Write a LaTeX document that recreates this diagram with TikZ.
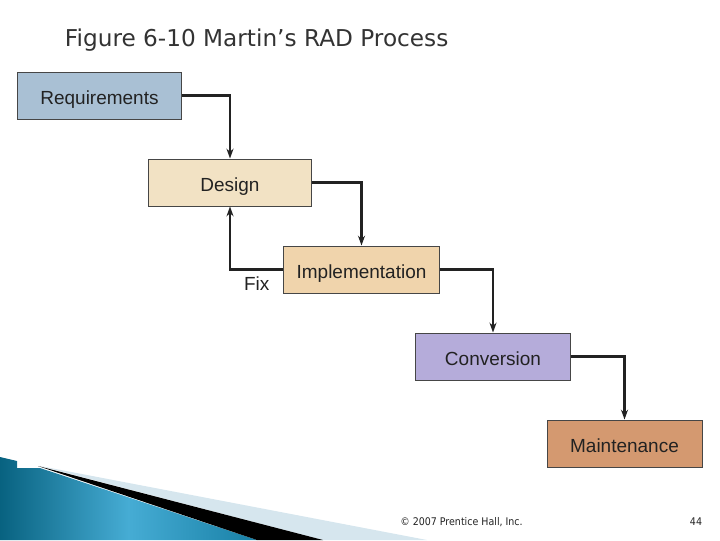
\documentclass[tikz,border=0pt]{standalone}
\usepackage{fontspec}
\usepackage{xcolor}
\setmainfont{Liberation Sans}
\newfontfamily\titlefont{DejaVu Sans}
\newfontfamily\footfont{DejaVu Sans Condensed}
\usetikzlibrary{arrows.meta}

\definecolor{reqfill}{RGB}{169,192,212}
\definecolor{desfill}{RGB}{242,226,196}
\definecolor{impfill}{RGB}{240,212,172}
\definecolor{convfill}{RGB}{181,172,218}
\definecolor{mntfill}{RGB}{212,153,112}
\definecolor{edgegray}{RGB}{70,70,70}
\definecolor{inkdark}{RGB}{34,34,34}
\definecolor{titlegray}{RGB}{51,51,51}
\definecolor{bandlight}{RGB}{214,230,238}
\definecolor{tealdark}{RGB}{8,98,128}
\definecolor{tealmid}{RGB}{70,172,212}
\definecolor{tealend}{RGB}{24,128,166}

\begin{document}
\begin{tikzpicture}[
  x=0.025cm, y=-0.025cm,
  stage/.style={rectangle,draw=edgegray,line width=0.7pt,text=inkdark,
    minimum height=1.175cm,inner sep=0pt,text height=12.5pt,text depth=0pt,
    font=\fontsize{13.5}{16}\selectfont},
  flow/.style={draw=inkdark,line width=1.6pt,
    -{Stealth[length=7pt,width=5pt]}}
]
  \useasboundingbox (0,0) rectangle (720,540);
  % slide decoration
  \shade[left color=tealdark,right color=tealend,middle color=tealmid]
    (0,457) -- (17,461) -- (17,468) -- (40,468) -- (257,540) -- (0,540) -- cycle;
  \fill[bandlight] (40,466) -- (427,540) -- (323,540) -- cycle;
  \fill[black] (38,466) -- (323,540) -- (257,540) -- cycle;
  % title and footer
  \node[anchor=base west,text=titlegray,font=\titlefont\fontsize{16.5}{19}\selectfont]
    (title) at (60,46) {Figure 6-10 Martin’s RAD Process};
  \node[text=inkdark,font=\footfont\fontsize{7.5}{9}\selectfont]
    (copy) at (461.5,522) {© 2007 Prentice Hall, Inc.};
  \node[text=inkdark,font=\footfont\fontsize{7.5}{9}\selectfont]
    (page) at (696,522) {44};
  % stages
  \node[stage,fill=reqfill,minimum width=4.075cm] (req) at (99.5,95.5) {Requirements};
  \node[stage,fill=desfill,minimum width=4.05cm] (des) at (230,182.5) {Design};
  \node[stage,fill=impfill,minimum width=3.875cm] (imp) at (361.5,269.5) {Implementation};
  \node[stage,fill=convfill,minimum width=3.85cm] (conv) at (493,356.5) {Conversion};
  \node[stage,fill=mntfill,minimum width=3.875cm] (mnt) at (624.5,443.5) {Maintenance};
  % connectors
  \draw[flow] (req.east) -| (des.north);
  \draw[flow] (des.east) -| (imp.north);
  \draw[flow] (imp.east) -| (conv.north);
  \draw[flow] (conv.east) -| (mnt.north);
  \draw[flow] (imp.west) -| node[pos=0.25,below=1pt,text=inkdark,
    font=\fontsize{13.5}{16}\selectfont] {Fix} (des.south);
\end{tikzpicture}
\end{document}
